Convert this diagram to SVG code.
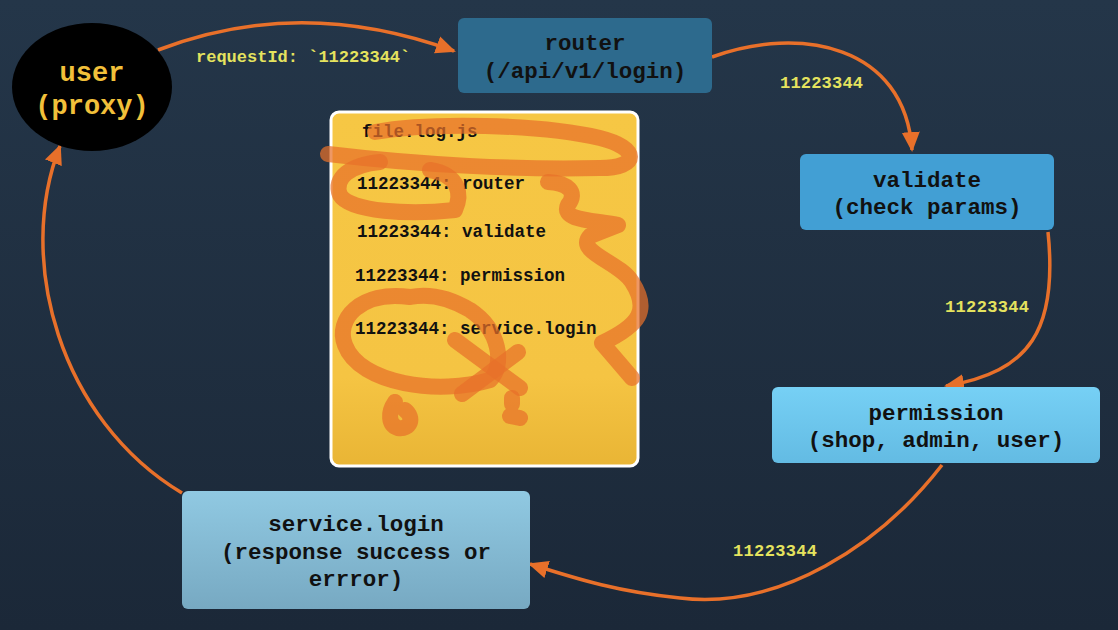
<svg xmlns="http://www.w3.org/2000/svg" width="1118" height="630" viewBox="0 0 1118 630">
<defs>
<linearGradient id="bg" x1="0" y1="0" x2="0" y2="1"><stop offset="0" stop-color="#243649"/><stop offset="1" stop-color="#1b2838"/></linearGradient>
<linearGradient id="gPerm" x1="0" y1="0" x2="0" y2="1"><stop offset="0" stop-color="#76d0f5"/><stop offset="1" stop-color="#63bbe3"/></linearGradient>
<linearGradient id="gServ" x1="0" y1="0" x2="0" y2="1"><stop offset="0" stop-color="#90c9e2"/><stop offset="1" stop-color="#77a9c2"/></linearGradient>
<linearGradient id="gLog" x1="0" y1="0" x2="0" y2="1"><stop offset="0" stop-color="#f6c744"/><stop offset="0.75" stop-color="#f5c443"/><stop offset="1" stop-color="#e9b535"/></linearGradient>
<marker id="ah" markerUnits="userSpaceOnUse" markerWidth="22" markerHeight="20" refX="18" refY="10" orient="auto"><path d="M0,1 L20,10 L0,19 Z" fill="#e8702a"/></marker>
</defs>
<style>
.node{font-family:"Liberation Mono","Courier New",monospace;font-weight:bold;font-size:22.5px;fill:#111;text-anchor:middle}
.lbl{font-family:"Liberation Mono","Courier New",monospace;font-weight:bold;font-size:17px;fill:#e5e35e}
.log{font-family:"Liberation Mono","Courier New",monospace;font-weight:bold;font-size:17.5px;fill:#111}
.edge{fill:none;stroke:#e8702a;stroke-width:3.5}
.scr{fill:none;stroke:#e8702a;stroke-opacity:0.72;stroke-width:16;stroke-linecap:round;stroke-linejoin:round}
</style>
<rect width="1118" height="630" fill="url(#bg)"/>

<g id="connectors">
<path class="edge" d="M158,50 Q300,-5 454,51" marker-end="url(#ah)"/>
<path class="edge" d="M712,57 C800,25 905,45 912,150" marker-end="url(#ah)"/>
<path class="edge" d="M1048,232 C1058,330 1030,372 946,386" marker-end="url(#ah)"/>
<path class="edge" d="M942,465 C880,545 780,610 680,598 C620,592 580,580 530,564" marker-end="url(#ah)"/>
<path class="edge" d="M182,493 C60,420 15,260 60,146" marker-end="url(#ah)"/>
<text class="lbl" x="196" y="62">requestId: `11223344`</text>
<text class="lbl" x="780" y="88" textLength="83">11223344</text>
<text class="lbl" x="945" y="312" textLength="84">11223344</text>
<text class="lbl" x="733" y="556" textLength="84">11223344</text>
</g>

<g id="user">
<ellipse cx="92" cy="87" rx="80" ry="64" fill="#000"/>
<text x="92" y="81" text-anchor="middle" font-family="Liberation Mono, monospace" font-weight="bold" font-size="27" fill="#f2c03a">user</text>
<text x="92" y="114" text-anchor="middle" font-family="Liberation Mono, monospace" font-weight="bold" font-size="27" fill="#f2c03a">(proxy)</text>
</g>

<g id="router">
<rect x="458" y="18" width="254" height="75" rx="6" fill="#2d6a8d"/>
<text class="node" x="585" y="50">router</text>
<text class="node" x="585" y="78">(/api/v1/login)</text>
</g>

<g id="validate">
<rect x="800" y="154" width="254" height="76" rx="6" fill="#429fd4"/>
<text class="node" x="927" y="187">validate</text>
<text class="node" x="927" y="214">(check params)</text>
</g>

<g id="permission">
<rect x="772" y="387" width="328" height="76" rx="6" fill="url(#gPerm)"/>
<text class="node" x="936" y="420">permission</text>
<text class="node" x="936" y="447">(shop, admin, user)</text>
</g>

<g id="service">
<rect x="182" y="491" width="348" height="118" rx="6" fill="url(#gServ)"/>
<text class="node" x="356" y="531">service.login</text>
<text class="node" x="356" y="559">(response success or</text>
<text class="node" x="356" y="586">errror)</text>
</g>

<g id="logfile">
<rect x="331" y="112" width="307" height="354" rx="8" fill="url(#gLog)" stroke="#ffffff" stroke-width="3"/>
<text class="log" x="362" y="137">file.log.js</text>
<text class="log" x="357" y="189">11223344: router</text>
<text class="log" x="357" y="237">11223344: validate</text>
<text class="log" x="355" y="281">11223344: permission</text>
<text class="log" x="355" y="334">11223344: service.login</text>
</g>

<g id="scribbles">
<path class="scr" d="M375,132 C430,122 540,124 600,138 C640,148 640,168 600,168 C520,170 420,165 328,154"/>
<path class="scr" d="M380,162 C350,165 333,178 340,195 C350,212 410,215 455,210 C462,195 460,175 430,170"/>
<path class="scr" d="M548,182 C568,183 578,192 568,205 C560,222 600,220 618,225 L590,236 C575,252 620,262 632,282 C650,310 640,325 602,343 L632,378"/>
<path class="scr" d="M410,297 C360,290 335,320 345,345 C360,385 440,395 490,380 C505,365 500,330 470,310 C450,298 430,293 410,297"/>
<path class="scr" d="M455,340 L520,388"/>
<path class="scr" d="M518,352 L462,394"/>
<path class="scr" d="M395,402 C388,412 388,425 398,428 C410,430 415,418 405,410"/>
<path class="scr" d="M512,398 L512,404 M510,416 L520,418"/>
</g>
</svg>
